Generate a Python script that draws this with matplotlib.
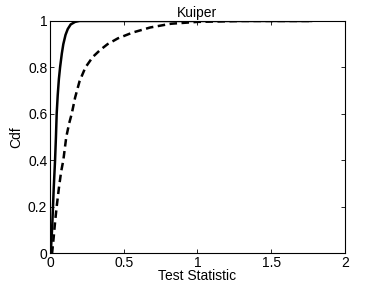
import numpy as np
from matplotlib import pyplot as plt

plt.rcParams['font.family'] = ['Liberation Sans', 'DejaVu Sans']

# solid curve
x_solid = [0.0, 0.005, 0.015, 0.025, 0.034, 0.040, 0.045, 0.052, 0.060, 0.068, 0.080, 0.090, 0.105, 0.120, 0.140, 0.170, 0.200, 0.250, 0.400, 1.000, 1.770]
y_solid = [0.0, 0.0, 0.12, 0.28, 0.40, 0.50, 0.60, 0.68, 0.75, 0.80, 0.86, 0.90, 0.94, 0.965, 0.985, 0.996, 1.0, 1.0, 1.0, 1.0, 1.0]

# dashed curve
x_dash = [0.010, 0.014, 0.025, 0.035, 0.045, 0.060, 0.075, 0.090, 0.110, 0.130, 0.147, 0.170, 0.200, 0.240, 0.290, 0.340, 0.390, 0.460, 0.560, 0.680, 0.820, 1.000, 1.300, 1.770]
y_dash = [0.0, 0.0, 0.07, 0.14, 0.20, 0.28, 0.35, 0.40, 0.50, 0.56, 0.60, 0.67, 0.74, 0.80, 0.845, 0.875, 0.90, 0.925, 0.950, 0.972, 0.988, 0.996, 1.0, 1.0]

fig = plt.figure(figsize=(3.82, 2.87), dpi=100)
ax = fig.add_axes([0.131, 0.118, 0.772, 0.809])
ax.plot(x_solid, y_solid, 'k-', lw=1.8)
ax.plot(x_dash, y_dash, 'k--', lw=1.8, dashes=(3, 1.8))
ax.set_xlim(0, 2)
ax.set_ylim(0, 1)
ax.set_xticks([0, 0.5, 1, 1.5, 2])
ax.set_xticklabels(['0', '0.5', '1', '1.5', '2'])
ax.set_yticks([0, 0.2, 0.4, 0.6, 0.8, 1])
ax.set_yticklabels(['0', '0.2', '0.4', '0.6', '0.8', '1'])
ax.tick_params(direction='in', top=True, right=True, labelsize=10, length=3, width=0.6, pad=2)
for s in ax.spines.values():
    s.set_linewidth(0.8)
ax.set_title('Kuiper', fontsize=10, pad=3)
ax.set_xlabel('Test Statistic', fontsize=10, labelpad=-1)
ax.set_ylabel('Cdf', fontsize=10, labelpad=3)
fig.savefig('out.png', dpi=100)
